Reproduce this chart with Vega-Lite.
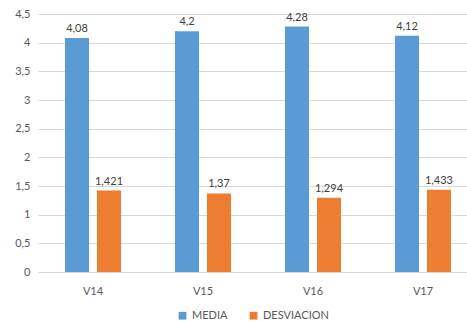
{
  "$schema": "https://vega.github.io/schema/vega-lite/v6.json",
  "width": 429,
  "height": 258,
  "autosize": {"type": "none"},
  "padding": {"left": 38, "top": 14, "right": 0, "bottom": 50},
  "config": {
    "locale": {"number": {"decimal": ",", "thousands": ".", "grouping": [3], "currency": ["", " €"]}},
    "view": {"stroke": null},
    "font": "Lato",
    "axis": {"labelFont": "Lato", "labelColor": "#595959", "labelFontSize": 11},
    "legend": {"labelFont": "Lato", "labelColor": "#595959", "labelFontSize": 11, "layout": {"bottom": {"anchor": "middle"}}}
  },
  "data": {
    "values": [
      {"var": "V14", "serie": "MEDIA", "valor": 4.08},
      {"var": "V14", "serie": "DESVIACION", "valor": 1.421},
      {"var": "V15", "serie": "MEDIA", "valor": 4.2},
      {"var": "V15", "serie": "DESVIACION", "valor": 1.37},
      {"var": "V16", "serie": "MEDIA", "valor": 4.28},
      {"var": "V16", "serie": "DESVIACION", "valor": 1.294},
      {"var": "V17", "serie": "MEDIA", "valor": 4.12},
      {"var": "V17", "serie": "DESVIACION", "valor": 1.433}
    ]
  },
  "encoding": {
    "x": {
      "field": "var", "type": "nominal", "title": null,
      "scale": {"paddingInner": 0.4909, "paddingOuter": 0.1955, "align": 0.628},
      "axis": {"labelAngle": 0, "ticks": false, "domain": false, "labelPadding": 13}
    },
    "xOffset": {"field": "serie", "type": "nominal", "sort": ["MEDIA", "DESVIACION"], "scale": {"paddingInner": 0.25, "paddingOuter": 0}},
    "y": {
      "field": "valor", "type": "quantitative", "title": null,
      "scale": {"domain": [0, 4.5], "nice": false},
      "axis": {"values": [0, 0.5, 1, 1.5, 2, 2.5, 3, 3.5, 4, 4.5], "format": "~g", "ticks": false, "domain": false, "gridColor": "#D9D9D9", "labelPadding": 8}
    }
  },
  "layer": [
    {
      "mark": {"type": "bar"},
      "encoding": {
        "color": {
          "field": "serie", "type": "nominal", "sort": ["MEDIA", "DESVIACION"],
          "scale": {"domain": ["MEDIA", "DESVIACION"], "range": ["#5B9BD5", "#ED7D31"]},
          "legend": {"title": null, "orient": "bottom", "direction": "horizontal", "symbolType": "square", "symbolSize": 60, "columnPadding": 20, "offset": 14}
        }
      }
    },
    {
      "mark": {"type": "text", "dy": -9, "fontSize": 11, "color": "#404040", "font": "Lato"},
      "encoding": {"text": {"field": "valor", "type": "quantitative", "format": "~g"}}
    }
  ]
}
